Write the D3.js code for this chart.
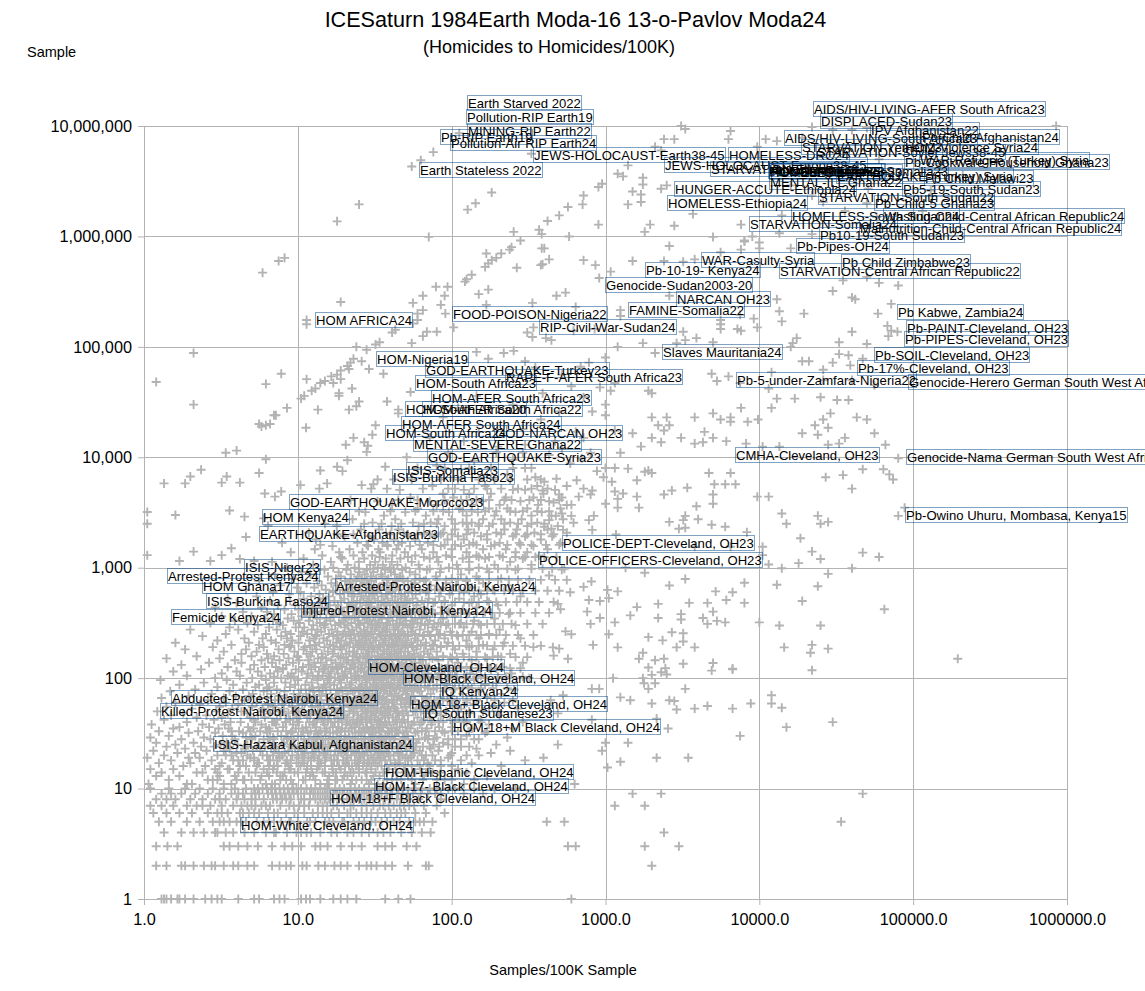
<!DOCTYPE html>
<html>
<head>
<meta charset="utf-8">
<title>ICESaturn</title>
<script src="https://cdn.jsdelivr.net/npm/d3@7"></script>
<style>
html, body { margin: 0; background: #fff; overflow: hidden; }
text { font-family: "Liberation Sans", Arial, sans-serif; fill: #000; }
</style>
</head>
<body>
<svg id="chart" width="1145" height="991"></svg>
<script>
var xTicks = [ 1, 10, 100, 1000, 10000, 100000, 1000000 ];
var yTicks = [ 1, 10, 100, 1000, 10000, 100000, 1000000, 10000000 ];

// scattered samples, top of the chart: [ samples/100K, sample ]
var sparseTop = [
	[76,5.8e6],[63,4.9e6],[55,4.3e6],[182,2.5e6],[143,2e6],[127,1.75e6],[25,1.95e6],[18,1.37e6],[71,9.9e5],[8.2,6.4e5],[7.5,6e5],[5.9,4.7e5],
	[253,1.1e6],[370,1.15e6],[385,1.05e6],[280,9.2e5],[245,8e5],[238,7.6e5],[168,7e5],[210,7e5],[195,6.4e5],[182,6.1e5],[173,5.7e5],[165,5.3e5],[265,5.2e5],[380,5.5e5],[385,7.8e5],
	[135,4.5e5],[125,4.1e5],[122,3.9e5],[79,3.5e5],[94,3.5e5],[173,3.3e5],[150,3e5],[90,2.9e5],[65,2.9e5],[56,2.5e5],[85,2.4e5],[168,2.4e5],[335,2.5e5],[19,2.55e5],
	[65,2.15e5],[60,2e5],[91,2e5],[11.4,1.75e5],[11.4,1.6e5],[60,1.75e5],[56,1.63e5],[103,1.5e5],[80,1.37e5],[69,1.37e5],[65,1.25e5],[43,1.43e5],[41,1.35e5],[340,1.5e5],[310,1.35e5],[335,1.23e5],
	[24,1e5],[28,9.4e4],[34,1.1e5],[32,1.05e5],[55,1.08e5],[145,9e4],[218,8.8e4],[253,9.2e4],[173,7.8e4],[300,7.4e4],
	[2.1,8.8e4],[7.8,5.7e4],[6.2,4.6e4],[1.2,4.8e4],[2.1,3e4],[8.5,2.8e4],[7,2.4e4],[23,7.8e4],[22,7.2e4],[21,6.7e4],[26,7.4e4],[21.5,6.3e4],[29,6.3e4],[36,5.7e4],[19,6.1e4],[18,5.6e4],[16.5,5.4e4],[15,4.9e4],[14,4.7e4],[11.4,5.1e4],[17,4.7e4],[19,5.1e4],[22.5,4.2e4],[13,4.2e4],[12.3,4e4],[11,3.6e4],[10.5,3.4e4],[18.5,3.8e4],[18.5,3.6e4],[54,3.9e4],[38,3.2e4],[25,3.2e4],[24,2.9e4],[21.5,2.7e4],[13.5,2.7e4],[45,2.7e4],[45,2.5e4],[390,3.8e4],
	[3100,1e7],[3300,9.4e6],[6500,9e6],[6300,7.6e6],[2400,7.6e6],[2800,7.6e6],[9700,6.5e6],[11000,7.6e6],[13000,7.3e6],[2100,6.5e6],[2300,6e6],[112,8.6e6],[330,5.6e6],
	[1400,4.4e6],[1200,3.7e6],[1300,3.5e6],[1750,3.4e6],[1750,2.95e6],[950,3e6],[900,2.8e6],[2500,2.9e6],[2300,2.7e6],[1500,2.55e6],[1700,2.4e6],[1700,2.05e6],[1400,1.95e6],[720,2.35e6],[710,1.95e6],[570,1.85e6],[500,1.55e6],[420,1.38e6],[900,1.28e6],[1950,1.28e6],[1800,1.1e6],[2800,1.25e6],[7600,1.28e6],[5000,9.9e5],[8000,9.2e5],[9000,1e6],[3700,1.6e6],[14000,1.55e6],[13500,1.07e6],[2600,8.2e5],[10000,7.8e5],
	[22000,9.8e6],[30000,9.2e6],[40000,9.2e6],[50000,9.6e6],[850000,1e7],[22000,1.05e6],[50000,2e6],[26000,2.05e6],[51000,2.7e6],[22000,2.35e6],[16000,2.9e6],[33000,6e6],[60000,5e6],[150000,4.4e6],[210000,3.6e6],[130000,2.6e6],[115000,1.7e6],[58000,1.5e6],[36000,1.7e6],[19000,7.8e6]
];

// scattered samples, y from 1000 to 1,000,000
var sparseMid = [
	[580,1e6],[10000,8.8e5],[8000,9e5],[16000,7.8e5],[7600,7.6e5],[5600,7.2e5],[2400,6e5],[3200,5.9e5],[1500,6e5],[720,6.1e5],[860,5.5e5],[430,6.2e5],[400,7.8e5],[390,5.6e5],[1080,4.8e5],[910,4.2e5],[3800,6.2e5],
	[30000,3.2e5],[40000,2.8e5],[42000,2.7e5],[80000,3.6e5],[60000,3.8e5],[50000,4.3e5],[35000,4e5],[72000,2.45e5],[59000,2e5],[19500,2e5],[13000,2.7e5],[13500,2.1e5],[14000,1.7e5],[9200,1.8e5],[7500,1.95e5],[5600,1.75e5],[5600,1.6e5],[5600,1.45e5],[7200,1.45e5],[7600,1.4e5],[9700,1.5e5],[3200,1.37e5],[3900,1.2e5],[5000,1.1e5],[3300,1.15e5],[2900,1.08e5],[1750,1.08e5],[1200,1e5],[2100,8.8e4],
	[17500,1.2e5],[16500,1.08e5],[16000,1e5],[33000,1.1e5],[50000,1.06e5],[40000,1.37e5],[68000,1.55e5],[79000,1.37e5],[69000,1.25e5],[72000,1.4e5],[33000,8.6e4],[38000,8.4e4],[19000,7.4e4],[30000,7.2e4],[21000,7.4e4],[39000,6.8e4],[47000,7.8e4],[26000,6.2e4],[12000,5.9e4],[4900,5.7e4],[6300,5.4e4],[5300,4.9e4],[7500,4.7e4],[11500,4.2e4],[26000,5e4],[40000,5e4],[56000,4.5e4],
	[17000,3.4e4],[13000,3.4e4],[25000,3.5e4],[38000,3.3e4],[32000,3.3e4],[12000,2.8e4],[7600,2.8e4],[5000,2.5e4],[3800,2.3e4],[6500,2.3e4],[5600,2.2e4],[6500,2.1e4],[9800,2.2e4],[8400,2.1e4],[26000,2.2e4],[29000,2.5e4],[43000,2.3e4],[50000,2.2e4],[23000,1.95e4],[28000,1.85e4],[19000,1.65e4],[24000,1.6e4],[36000,1.5e4],[56000,1.65e4],[66000,1.3e4],[33000,1.33e4],[28000,1.3e4],[13500,1.25e4],[8200,1.33e4],[10500,1.25e4],[6100,1.4e4],[5000,1.5e4],[4400,1.7e4],[4300,1.37e4],[3800,1.33e4],[3100,1.5e4],[2400,1.75e4],[2600,1.95e4],[2500,2.3e4],[2000,2.3e4],[2200,1.95e4],[1500,1.65e4],[2000,1.5e4],[2300,1.37e4],[1700,1.25e4],
	[1000,2.4e4],[1150,1.75e4],[1000,3e4],[1000,8e4],[780,7.2e4],[690,6.6e4],[1900,4e4],[2000,3.8e4],[1150,4.7e4],[920,4.3e4],[1080,4e4],[480,2.9e5],[550,3.1e5],[640,2.3e5],[445,1.15e5],[410,1.2e5],[2600,2.9e5],[1250,2.15e5],[1250,1.9e5],[850,1.45e5],[620,1.4e5],[350,6.5e4],[520,5.6e4],[600,4.4e4],[720,3.5e4],[820,2.6e4],[500,2.6e4],[380,2.2e4],[290,1.8e4],[640,1.7e4],[720,1.5e4],[470,1.4e4],[300,1.3e4],[150,1.7e4],[200,1.25e4],[120,1.4e4],[88,2.3e4],[145,3.6e4],[110,2.8e4],[250,3e4],[72,1.5e4],
	[6500,7200],[4700,7200],[7000,5700],[6000,5700],[5100,5700],[3400,5300],[2700,5000],[2400,4600],[5000,4600],[5000,3800],[3900,3600],[9700,4400],[11500,4400],[27000,6600],[35000,6900],[40000,5200],[47000,7800],[64000,7800],[70000,7000],[74000,6300],[80000,9800],[88000,3500],[80000,2950],[14000,3100],[15000,2500],[24000,2950],[28000,2600],[25000,2500],[18500,1850],[22000,1400],[25000,1200],[47000,1370],[60000,1250],[18000,1100],[10500,1550],[10500,1300],[11500,1070],
	[1150,8000],[1000,8000],[970,6600],[1100,6000],[1400,7900],[1600,6200],[1900,7600],[2000,7200],[1800,7400],[1150,4900],[1300,4700],[1200,4200],[1600,4400],[1200,3500],[1650,3500],[1000,3800],[820,5000],[720,5200],[670,4400],[650,6200],[800,4600],[480,6400],[400,6000],[390,5000],[500,4600],[460,3900],[560,3700],[520,3100],[475,2950],[430,2700],[600,2950],[620,2550],[780,2700],[840,2950],[445,2250],[400,2350],[530,2200],[820,2200],[1170,2000],[2600,2600],[3200,2700],[3300,2950],[4000,2750],[4900,2450],[6000,2350],[3000,2250],[3300,2300],[8300,2100],[3800,1550],[6500,1550],[1350,1000],[520,960],[430,850],[1800,900],
	[5.6,2e4],[7.2,2.4e4],[6.6,2e4],[6.2,1.95e4],[5.8,1.9e4],[11.3,1.85e4],[3.4,1.1e4],[4,1.15e4],[6.2,9600],[2.35,7700],[2,6700],[1.85,5800],[1.35,5800],[3.2,5900],[3.45,6700],[4.2,5900],[5.6,7200],[6.1,4700],[7.1,4400],[7.8,4900],[10.4,5600],[14,7600],[15.5,5800],[13.8,5200],[21,9400],[23,1.5e4],[27,1.37e4],[28.5,1.27e4],[28,1.12e4],[20.5,1.3e4],[18,8200],[19.5,7500],[32,1.95e4],[30.5,1.6e4],[33,6300],[37,8200],[31,5700],[26,5600],[51,1e4],
	[1.05,3200],[1.05,2500],[1.6,3000],[3.6,3300],[4.5,2900],[6,2800],[6.4,2400],[4.6,1900],[3.7,1500],[3.2,1300],[2.7,1150],[4.2,1200],[5.2,1150],[2.1,1400],[1.7,1150],[1.05,1300],
	[80,8400],[95,1.1e4],[115,7800],[140,9300],[170,6900],[195,1.1e4],[230,7000],[250,9500],[290,1.1e4],[330,8000],[350,6600],[430,1.05e4],[520,1.2e4],[590,8800],[700,9800],[800,1.1e4],[880,7500],[1250,1.1e4]
];

// scattered samples, y below 1000 and x above about 400
var sparseRight = [
	[8000,730],[8000,480],[6700,600],[6100,510],[5200,610],[4600,480],[3500,480],[3300,790],[2600,690],[5000,400],[4300,350],[4600,310],[5300,330],[6000,320],[3100,380],[3100,340],[2200,470],[2200,350],[1600,440],[1450,370],[1150,320],[920,350],[800,310],[2700,260],[1900,235],[2350,220],[3200,255],[3200,215],[2900,190],[3800,190],[1750,170],[2100,145],[1650,150],[2400,150],[1900,125],[3200,135],[5000,137],[6700,122],[1050,250],[1200,190],[830,200],[600,250],[550,265],[570,150],[455,190],[500,185],[460,160],[810,750],[590,600],[780,510],[1030,630],[1200,610],[1050,530],[920,500],[720,670],[490,470],[510,420],[760,400],
	[14000,990],[40000,990],[28000,880],[24000,680],[13000,700],[19000,500],[65000,420],[25000,300],[13500,300],[14500,190],[22000,200],[21500,170],[28000,185],[10000,320],[195000,150],
	[22000,118],[6700,120],[4900,117],[3300,80],[12000,70],[12000,59],[14000,54],[8800,59],[6700,53],[4600,56],[3800,53],[2900,52],[2800,62],[2600,63],[2000,59],[1450,63],[1250,67],[910,80],[815,80],[1120,100],[1750,100],[1780,90],[2000,107],[1900,80],[2100,90],[2500,108],[2300,113],[2450,123],[2150,43],[2550,35],[7500,30],[15000,36],[30000,40],[1400,26],[1000,26],[950,22],[1250,17.5],[1030,15.5],[2150,19],[3450,19],[490,25],[395,19],[815,42],[530,70],[440,63],[490,48],[630,11],[1500,9],[2300,9],[1150,7],[1800,7],[47000,9],[34000,5],[2400,4],[415,5],[540,5],[570,3],[640,3],[1800,3],[3000,3],[2000,2],[600,1]
];

// dense cloud, one row per sample count: [ sample, [ samples/100K, ... ] ]
var denseRows = [
	[1,[1.3,1.35,1.4,1.5,1.65,1.7,1.85,2.1,2.5,2.75,3,3.2,4.1,5.2,5.6,7,7.6,8.2,10.5,11.3,12,14,17,19,21,24,37,45,54]],
	[2,[1.2,1.4,1.75,1.85,2.1,2.45,2.75,2.9,3.3,3.8,4.1,4.7,5.2,6.8,7.6,8.4,9,10.7,11.4,13.6,15,17.3,19,21,25,28,30,32.5,37,41,52,68,71]],
	[3,[1.2,1.42,1.65,3.3,3.6,4.1,4.7,5.5,6.8,8.2,9.2,10.5,13,14,15.6,19,22.5,26,33,37,41,51,59]],
	[4,[1.35,1.75,2.1,2.45,3.4,3.8,4.5,5.2,6.2,7.2,8.5,9.8,11.4,14,16.5,21,26,33,40,55,73,2.9,3,7,10.5,12.2,18,23,29,36,47,64]],
	[5,[1.25,1.5,1.9,2.3,2.8,3.1,3.3,3.6,4,4.6,5.4,6,7,7.8,8.8,10,11.5,13,15,17,19.5,23,27,32,38,46,53,62,75,4.3,6.5,9,12,16,20,25,30,35,42,58,66]],
	[6,[1.15,1.4,1.7,2.05,2.6,3,3.5,4.2,4.4,4.8,5.6,6.4,7.4,8.4,9.5,11,12.5,14.5,16.5,18.5,21,24,28,33,37,44,50,58,3.2,5.2,7,10,13.5,15.5,22,26,30,40,47,68,90]],
	[7,[1.1,1.3,1.55,1.9,2.2,2.7,3.2,3.8,4.3,5,5.3,5.8,6.6,7.7,8.8,10.2,11.8,13.5,15.5,18,20,23,26,31,36,42,49,57,66,2.4,4.7,6.2,9.4,11,14.5,17,22,28,34,39,46,53,80]],
	[8,[1.2,1.6,2,2.4,2.9,3.4,4,4.5,5.3,6,6.9,7.9,9,10.5,12,14,16,18.5,21,25,29,34,40,47,1.4,3.1,5,7.3,8.4,11,13,15,17,19.5,23,27,31,37,44,52,61,85]],
	[9,[1.3,1.75,2.15,2.6,3.1,3.7,4.4,5,5.6,6.4,7.2,8.2,9.4,11,12.6,14.5,17,19.5,22,26,30,35,41,48,56,70,85,120,160,1.5,4.1,5.3,6.8,7.7,8.8,10,12,13.5,15.5,18,21,24,28,33,38,45,52,63,78]],
	[10,[1.1,1.45,1.85,2.3,2.8,3.3,3.9,4.6,5.2,5.9,6.7,7.6,8.6,9.8,11.4,13,15,17.5,20,23.5,27,32,37,44,52,64,80,105,140,190,260,5.5,6.3,7.1,8.1,9.2,10.5,12.2,14,16,18.7,22,25,29,34,40,48,58,72,95]],
	[11,[1.07,1.9,2.05,3.3,3.7,6.2,6.8,7.1,9.3,14,15.5,15.9,22,29,33,36,58,120]],
	[12,[1.45,2.6,2.8,4.4,4.5,5,8.4,10.8,11.2,13,18,19.5,24,26,41,47,90,3,4,5.7,7.7,9,15.6,17.5,22.5,28,30,38,44,55,65,80,100,140]],
	[13,[1.2,1.7,3.1,3.9,5.8,6.5,7.7,8,12,12.6,16,20,21,31,34,52,66,170]],
	[14,[1.3,2.2,2.4,4.8,5.3,7.3,9.5,10,14.5,17,17.7,23,27.5,28,38,44,75,3,4.1,6.3,8.2,11.3,12.4,15,20.2,22,25,32,36,50,58,68,85,125]],
	[15,[1.1,1.55,2.9,3.5,3.6,6,6.9,8.8,9,11.5,13.3,16.8,19,25,30,39,49,63,110]],
	[16,[1.8,2.5,4.2,4.6,7,7.4,10.4,12.2,15,18.5,21.5,22.5,26.5,33,35,55,85,210,3.1,5.4,6.5,8.7,11.5,13.7,16.7,20.3,24,28,30,38,43,50,62,72,100]],
	[17,[1.25,2,3.2,5.5,5.6,8.3,9.8,11,14,14.2,20.5,24.5,29,32,43,46,70,135]],
	[18,[1.5,2.75,3.8,4.1,6.4,6.6,8.5,13.5,16.5,17.2,19.7,23.5,28.5,37,40,60,78,300,4.4,5.2,7.3,9,10.7,12.2,15,18,21,25,27,31,34,45,52,66,85,115]],
	[19,[1.05,1.95,2.3,4.9,5.2,7.6,10.1,11.7,12.8,15.3,21,25.5,31,34.5,50,54,95]],
	[20,[1.35,3,3.4,5.9,6.3,9.2,9.9,13.8,16.3,18.2,22.2,27,30,36,42,48,68,125,3.7,4.7,6.9,7.9,10.8,12.7,15,17.3,20.8,25,28.4,33,39,46,55,64,75,98,150]],
	[21,[1.65,2.15,4,4.3,7.5,8.2,11.1,12.4,14.8,19.2,24,26.3,33.5,38,45,57,100,180]],
	[22,[1.15,2.55,3.3,5.1,5.7,8.7,10.6,15.6,17.5,20.2,23,28.3,31.5,35,51,62,82,240]],
	[23,[1.85,3.6,4.5,6.7,7.2,9.6,13.1,13.6,18.8,21.2,25,29.5,32.5,39,44,56,73,145]],
	[24,[1.4,2.35,2.85,5.4,6.1,10.3,11.4,14.4,16.1,22,24.2,27.8,34,41,47,65,115,3.6,4.6,7,8.9,10,12.7,13.7,18.5,20,25,29,32,37.6,45,50,58,72,83,105,130]],
	[25,[1.6,3.15,4.05,4.7,7.9,9.1,12.3,15.1,17.9,19.9,26,30.5,36.5,37.5,53,76,95,195]],
	[26,[1.2,2.1,3.45,5.6,6.6,8.1,10.9,13,16.6,20.8,23.2,28.8,33,40,46,59,88]],
	[28,[1.75,2.7,3.9,6,7,9.4,11.8,14.6,15.8,18.6,24.7,26.8,31.2,35.8,42.5,61,105,150,5,6.4,8.5,11,13.3,16.9,20,23.5,27.3,33.4,37,42,50,56,70,77,95,115,140]],
	[29,[1.1,2.45,4.6,5,6.9,8.6,12.7,13.4,17,21.7,22.7,29.6,34.2,39.5,49,67,80,230]],
	[30,[1.45,3.25,3.75,5.3,7.8,10,10.5,15.2,19.1,20.3,25.8,30.8,37.2,43,52,71,125]],
	[32,[1.95,2.9,4.4,6.3,9,11.6,13.7,16.2,18,23.7,27.2,32,38.5,45,48,58,90,165]],
	[33,[1.25,2.25,4.15,5.7,7.4,8.4,12.1,14.1,17.8,21.4,24.9,29,35,41,44,64,78,110,3.7,4.9,6.6,9.2,10.8,13,15,19,20.3,26,30,34,39,43,51,60,68,87,100,130,170]],
	[35,[1.55,3.05,3.55,5.15,6.5,9.7,10.7,15.4,19.4,22.4,26.6,31,33.7,40.5,54,69,135,250]],
	[36,[1.7,2.65,4.75,6.2,8,11.3,13.2,16.9,18.3,23.4,28.2,30.2,36,46,50,83,100]],
	[38,[1.12,2.4,3.35,5.8,7.2,9.3,12.5,14.9,20.6,21.9,25.3,32.7,37.7,42,55,62,74,175]],
	[40,[1.9,3.65,4.25,6.8,8.3,10.2,11.9,16.4,17.4,24.3,27.7,34.8,39.2,47.5,57,88,120,290,5.3,7,8.4,10,12.8,14.6,18.4,21,24,30,34,37,44,52,64,74,82,105,125,155]],
	[42,[1.35,2.85,5.2,7.3,8.9,13.3,15.7,19.3,22.9,26.2,29.3,33.3,43.5,49,66,98,150]],
	[44,[2.2,3.2,4.9,6.1,9.8,11.5,14.3,18.1,21,25.6,28,31.7,36.8,41.5,60,72,112]],
	[46,[1.5,2.55,5.5,7.7,10.4,12,16,17.3,20.1,24.6,30.1,35.5,38.7,45.5,52,85,205]],
	[48,[1.8,3.5,4.7,6.6,8.7,13.9,15,19,23.1,27.4,32.3,37,44.5,48,68,79,130]],
	[50,[1.22,2.95,4.3,7.5,9.5,11,12.9,17.6,21.6,26.4,29.8,34.4,40,51,56,92,160,6,8,9.7,12.3,14.8,18.2,19.7,23,28,31,35,39,44,48,58,63,72,85,110,130,175,200]],
	[53,[2.05,3.75,5.9,8.1,10.1,14.7,16.6,18.9,24.1,28.6,33,38.2,43,59,63,75,115,270]],
	[55,[1.4,3.1,5.05,6.9,9.2,12.4,13.5,20,22.2,25.9,31.1,36.4,42.2,50,70,104,185]],
	[58,[2.3,4.1,6.4,7.9,10.7,15.9,17.1,21.3,23.9,27.1,30,35.2,46.7,53,61,82,140]],
	[60,[1.6,3.4,5.4,8.8,11.1,12.2,14,18.7,22.6,26,32.9,39,41,49.5,65,77,125,220]],
	[63,[2.6,4.5,7.1,9.9,13.1,15.5,19.7,24.4,28.4,33.6,37.6,44,54.5,58,94,108,7.5,11.5,14,17.7,20,22,26,30,32,37,42,47,51,57,68,77,88,100,125,145,190,250]],
	[66,[1.3,3.3,5.7,6.3,8.5,11.7,16.7,20.7,23.3,27.9,31.4,35.7,47,52,69,84,170]],
	[69,[1.95,3.95,4.8,7.6,10.3,12.8,14.2,18.4,25.2,29.1,34.1,40.7,45.2,56.5,64,99,135]],
	[72,[2.75,5.1,6.7,9.4,11.3,15.3,17.7,21.1,26.7,30.6,32.2,38.1,42.7,50.5,73,118,210]],
	[76,[1.48,3.6,6,8.2,12.6,13.8,19.5,22.8,24.8,28.9,36.2,39.7,48.5,55,62,88,150]],
	[79,[2.15,4.4,7.3,10.5,11.9,16.3,18,23.6,27.3,31.9,34.7,43.7,51.5,60,76,102,255]],
	[81,[6.3,12.5,14.5,19,22,25,28,33,37,40,46,50,55,60,70,80,90,105,118,135,155,185,230]],
	[83,[3,5.3,6.5,8.9,13.6,15.1,20.4,25.4,29.7,33.2,37.3,41.3,46.3,57.5,67,128]],
	[87,[1.7,3.8,5.6,9.6,11.2,14.8,17.2,21.8,26.1,30.9,35.9,40.2,45,53.5,80,93,165]],
	[91,[2.45,4.65,7,8.3,12.3,16.1,19.1,22.3,28.1,32.4,38.8,44.8,50,63,72,112,195]],
	[96,[1.28,3.45,6.2,10,13.4,15.6,18.6,24,27.6,31.3,34.9,42.4,48.2,58.5,86,140]],
	[100,[2.9,5.05,7.8,9,11.4,17.4,20.9,25.1,29.2,33.9,37.8,46,52.5,66,74,120,320]],
	[103,[7,9.4,13.5,16,20,23.5,27.5,31.7,36.2,41,47,51,56,61,70,81,95,108,125,145,165,200,225,290]],
	[105,[1.9,4.2,5.8,8.6,12.5,14.5,19.6,23.8,26.9,30.4,36.6,41.8,55.5,61,98,155]],
	[110,[3.2,6.6,9.1,11.6,15.8,18.2,22.1,28.3,32.8,35.3,39.9,47.6,53.7,70,83,132,245]],
	[115,[1.55,4,5.5,7.4,10.6,13.7,16.4,20.3,24.5,27,31.6,37.1,44.2,51,64,105]],
	[120,[2.35,4.9,8,9.7,12.2,14.6,17.9,21.9,25.7,29.9,34.3,38.4,43.2,59,78,90,180]],
	[123,[8,15,18,22,26,31,36,41,45.5,52,58,64,70,78,86,95,105,115,135,150,175,195,240,280]],
	[126,[3.5,6.1,7.2,10.8,13,16.8,19.4,23.5,28.8,33.4,36,42,49.2,56,71,125,215]],
	[132,[1.75,5.2,8.4,11.8,15.4,18.9,22.5,26.3,30.7,35.1,39.1,45.7,54,68,95,150]],
	[138,[2.65,4.3,6.8,9.3,12.8,14.1,17.6,20.7,24.7,27.5,32.5,37.4,47.3,58,62,110,290]],
	[145,[3.9,5.8,7.6,10.2,11.7,16.5,21.2,23,29.4,31.8,36.9,41.1,50.8,65,82,135]],
	[151,[1.4,3.1,6.4,8.7,13.5,15.2,19.8,25.3,28.2,34.6,38.3,44.6,55,75,100,170]],
	[155,[10,14.5,19,24,28,33,38,45,50,57,63,72,80,88,98,108,120,130,145,165,185,210,260,310]],
	[158,[2.2,5,7,9.9,12.1,18.3,22.7,26.6,30.3,33.1,40.4,48.7,53,61,88,200]],
	[166,[4.3,6.3,8.1,11.4,14.3,16.9,20.6,24.2,27.8,35.6,39.3,43.6,57,70,118,240]],
	[174,[3.3,5.4,9.5,12.4,15.7,21.6,23.3,29,31.5,36.4,42.3,46.8,52,66,80,145]],
	[182,[1.85,4.6,7.5,10.9,13.2,17.3,19.3,25.9,28.6,32.9,37.9,45.3,59,73,105,185]],
	[191,[2.8,6,8.8,11.1,14.9,18.8,22.9,26.8,30.8,34.2,40.8,49.8,56,85,130,340]],
	[196,[9,12,17,20,25,30,36,42,48,55,60,68,75,85,93,102,112,125,135,150,170,190,215,250,300,380]],
	[200,[3.7,5.6,8.2,12.9,16.2,20.8,24.4,27.3,33.7,38.9,44.3,51,63,76,160]],
	[209,[1.6,4.8,7.2,10.1,13.8,17.8,21.7,25.5,29.5,35.8,41.7,47.8,54.7,68,95,220]],
	[219,[3,6.7,9.2,11.9,15.5,19.2,23.7,27.9,32.2,37.2,43.4,50.3,60,78,125]],
	[229,[4.5,5.9,8.5,12.7,14.7,18.4,22.2,26.2,31.1,36.7,40.9,46.1,57.7,90,150,280]],
	[240,[2.4,7.8,10.4,13.1,17,20.5,24.9,28.7,34.5,39.6,45,52.3,65,73,110]],
	[246,[13,18,22,27,35,40,45,52,58,66,72,82,90,100,108,118,130,145,155,175,195,225,270,340]],
	[251,[3.4,6.2,9,11.5,15.9,19.7,23.2,27.6,30.1,33.8,42.8,49,58,84,175]],
	[263,[5.2,8.3,10.7,14.2,18.1,21.4,25.6,29.7,35.4,38,47.2,54.5,70,98,135]],
	[275,[2,4.1,7.3,12.3,13.4,16.6,22.6,26.9,31.7,37,41.9,44.9,62,80,205]],
	[288,[3.6,6.5,9.7,11,15,20.2,24.1,28.4,32.6,36.1,43,51.7,56,75,120]],
	[302,[5.5,8,12.6,14.8,17.5,21,25.2,30.5,34,39.4,48.1,53.8,67,92,155,260]],
	[310,[15,19,25,30,38,44,50,56,63,70,77,85,95,105,112,125,138,150,170,190,215,245,310,390]],
	[316,[2.7,4.7,7.6,10.3,13.9,18.5,22.3,27.1,33.5,37.7,45.8,60,82,115]],
	[331,[3.9,6.9,9.4,11.8,16.3,19.9,24.6,29.3,31.9,41.4,50.6,55.3,72,140]],
	[347,[6.1,8.6,13.3,15.3,20.4,23.4,28.1,35.2,38.6,46.5,58,64,88,190]],
	[363,[3.2,5,10.6,12,17.1,21.5,26.4,30.9,34.4,44.1,49.5,69,105]],
	[380,[7,9.1,14,16.7,18.6,25,28.9,32.1,40.1,47.4,54.2,78,125,235]],
	[390,[12,20,24,33,40,46,55,62,68,75,85,93,103,115,130,145,160,180,205,240,280,350,430]],
	[398,[4.4,6.3,11.2,13,19.5,22.8,27.4,36.3,42.6,52.7,61,96,165]],
	[417,[8.2,10.1,15.6,17.7,24,26,31.4,37.8,45.6,56.6,74,118]],
	[437,[2.9,5.8,12.5,14.4,20.9,23.8,29.6,33,43.7,50,66,86,145]],
	[457,[7.4,9.6,16.1,18.2,22,27.8,34.7,39.7,48.4,59,100,200]],
	[479,[4,11.5,13.6,15.1,21.3,25.4,30.2,36.7,44.7,53.2,76,130]],
	[490,[14,23,29,36,45,50,60,70,78,90,105,120,135,150,175,195,225,265,310,370,460]],
	[501,[6.6,8.9,17.3,19.1,24.3,28.3,33.2,41.2,51.3,64,90,170]],
	[525,[3.5,10.9,14.6,20,26.7,31.6,38.3,46.9,55.7,71,112]],
	[550,[5.4,12.2,16,22.4,25.8,29.1,35,42.9,49.7,83,140,280]],
	[575,[8.8,13.8,18.8,23.1,30.7,37.5,47,58.3,97,155]],
	[603,[6.9,10.4,16.9,21.2,27.7,32.7,40.6,52.2,68,120]],
	[618,[17,25,30,41,55,62,70,85,100,112,130,150,170,190,220,250,290,350,420,500]],
	[631,[4.6,15.2,19.6,24.8,34.1,39,45.4,62,78,185]],
	[661,[9.9,12.8,22.6,28.8,33.6,43.2,54.8,88,135]],
	[692,[7.7,14.3,18,25.5,31.2,37.9,49.2,73,107,235]],
	[724,[11.4,16.5,21.8,27,36,41.6,57.2,92,160]],
	[759,[5.6,13.4,20.3,23.9,30,44.4,51.9,66,125]],
	[776,[22,28,38,44,58,68,80,92,110,125,150,175,200,235,270,320,380,470,560]],
	[794,[9.4,17.7,26.1,32.3,38.8,48,62,100,210]],
	[832,[15.7,19,24.5,29.9,35.4,46.2,79,145]],
	[871,[7.1,12.1,22.1,27.2,34.8,42.7,58,115]],
	[912,[10.6,18.4,25.1,31,40.3,53.4,84,175]],
	[955,[14.9,20.7,28.1,36.9,47.7,69,130,260]],
	[980,[25,31,42,62,72,85,110,130,170,200,230,270,330,390,450,540]],
	[1000,[8.5,17,23.4,33.1,39.6,50.2,96,150]],
	[1060,[12.6,21.1,29.5,35.7,44.4,61,108,190,330]],
	[1130,[6.8,16.4,24.9,31.8,40.8,55,82,130,240]],
	[1210,[10.9,19.4,27,37.3,46.4,72,118,165,290]],
	[1250,[19,34,52,66,80,100,130,150,175,215,260,300,350,400,480]],
	[1290,[14.4,23,30.4,41.1,58,92,145,205,370]],
	[1380,[9,18.6,26.3,34.3,49.6,76,125,260,310]],
	[1470,[12.9,21.7,33.4,43.8,64,100,160,225,420]],
	[1570,[16.8,28.6,38.4,53.6,85,115,180,340]],
	[1610,[14,28,38,45,62,76,90,105,130,145,190,230,280,330,410,500]],
	[1680,[7.9,24.4,35.5,47.5,70,138,205,275,510]],
	[1800,[13.1,31.3,42.1,58,94,120,170,380]],
	[1930,[20.1,29.2,52,78,110,155,250,300,450]],
	[2010,[18,23,40,52,60,72,85,100,125,170,210,260,310,380,460]],
	[2070,[11.8,37.4,48.6,66,88,140,195,345,560]],
	[2220,[25.7,33.7,45,105,128,220,265,420]],
	[2380,[17.9,40.7,61,90,175,150,310,490]],
	[2500,[15,27,35,47,66,80,105,125,150,185,220,270,330,400]],
	[2560,[30.6,56,73,118,135,240,360]],
	[2750,[22.7,43,82,100,160,210,285,530]],
	[2960,[36.3,68,125,190,330,445]],
	[3190,[27.5,50,96,148,260,385]],
	[3250,[25,40,58,76,88,118,135,165,195,240,290,360,430]],
	[3440,[60,112,175,230,310,510]],
	[3710,[41,80,135,205,365,600]],
	[4000,[33,72,158,280,430]],
	[4100,[22,45,60,90,115,125,145,175,220,245,320,380,500]],
	[4320,[54,103,225,340,520]],
	[4680,[88,130,180,395]],
	[5070,[46,120,250,300,470]],
	[5200,[30,38,65,95,105,140,170,210,270,330,420]],
	[5500,[75,165,360,560]],
	[6300,[42,55,85,110,150,190,240,310,380]],
	[8000,[60,90,130,180,250,300]]
];

var labelNames = [
	'Earth Starved 2022','Pollution-RIP Earth19','MINING-RIP Earth22','Pb-RIP Earth19','Pollution-Air RIP Earth24','JEWS-HOLOCAUST-Earth38-45','Earth Stateless 2022','HOMELESS-DRC24','JEWS-HOLOCAUST-Europe38-45','STARVATION-Ethiopia23',
	'AIDS/HIV-LIVING-AFER South Africa23','DISPLACED-Sudan23','IPV Afghanistan22','AIDS/HIV-LIVING-South Africa23','Pb-Child Afghanistan24','STARVATION-Yemen23','STARVATION-Soviet Jews38-45','HOM-Violence Syria24','WAR-Refugee (Turkey) Syria','Pb-Cookware-Household Ghana23',
	'HUNGER-Sudan23','HOMELESS-Yemen23','Pb-Child-Nigeria23','FOOD-INSECURE-Somalia23','Pb-5-Bangladesh23','EARTHQUAKE-(Turkey) Syria','Pb Child Malawi23','MENTAL-ILL Ghana22','HUNGER-ACCUTE-Ethiopia24','HOMELESS-Ethiopia24',
	'Pb5-19-South Sudan23','STARVATION-South Sudan22','Pb-Child-5 Ghana23','HOMELESS-South Sudan24','Wasting-Child-Central African Republic24','STARVATION-Somalia24','Malnutrition-Child-Central African Republic24','Pb10-19-South Sudan23','Pb-Pipes-OH24','WAR-Casulty-Syria',
	'Pb Child Zimbabwe23','Pb-10-19- Kenya24','STARVATION-Central African Republic22','Genocide-Sudan2003-20','NARCAN OH23','FAMINE-Somalia22','FOOD-POISON-Nigeria22','Pb Kabwe, Zambia24','HOM AFRICA24','RIP-Civil-War-Sudan24',
	'Pb-PAINT-Cleveland, OH23','Pb-PIPES-Cleveland, OH23','Slaves Mauritania24','Pb-SOIL-Cleveland, OH23','HOM-Nigeria19','Pb-17%-Cleveland, OH23','GOD-EARTHQUAKE-Turkey23','RAPE-F-AFER South Africa23','Pb-5-under-Zamfara-Nigeria22','Genocide-Herero German South West Africa',
	'HOM-South Africa23','HOM-AFER South Africa23','HOM-South Africa20','HOM-AFER South Africa22','HOM-AFER South Africa24','HOM-South Africa24','GOD-NARCAN OH23','MENTAL-SEVERE Ghana22','GOD-EARTHQUAKE-Syria23','CMHA-Cleveland, OH23',
	'Genocide-Nama German South West Africa','ISIS-Somalia23','ISIS-Burkina Faso23','GOD-EARTHQUAKE-Morocco23','Pb-Owino Uhuru, Mombasa, Kenya15','HOM Kenya24','EARTHQUAKE-Afghanistan23','POLICE-DEPT-Cleveland, OH23','POLICE-OFFICERS-Cleveland, OH23','ISIS-Niger23',
	'Arrested-Protest Kenya24','HOM Ghana17','Arrested-Protest Nairobi, Kenya24','ISIS-Burkina Faso24','Injured-Protest Nairobi, Kenya24','Femicide Kenya24','HOM-Cleveland, OH24','HOM-Black Cleveland, OH24','IQ Kenyan24','Abducted-Protest Nairobi, Kenya24',
	'HOM-18+ Black Cleveland, OH24','Killed-Protest Nairobi, Kenya24','IQ South Sudanese23','HOM-18+M Black Cleveland, OH24','ISIS-Hazara Kabul, Afghanistan24','HOM-Hispanic Cleveland, OH24','HOM-17- Black Cleveland, OH24','HOM-18+F Black Cleveland, OH24','HOM-White Cleveland, OH24'
];
var labelX = [
	113,112,113,75.6,87.9,304,55.2,5636,2162,4305,
	20100,22300,47200,13000,101000,16800,21000,78500,98300,78500,
	10400,10400,10400,10700,10200,28400,106000,10400,2512,2260,
	76200,21700,50100,14500,57300,7710,40000,22000,15600,3760,
	30500,1626,12100,894,2588,1261,90.5,70700,11.6,333,
	80900,78500,2099,50100,29,38800,60.4,200,6350,83400,
	52,66.1,44.8,57.8,42.2,33.2,170,50.5,62.2,6250,
	80900,45.5,36.9,7.89,79800,5.27,5.04,470,328,4.03,
	1.27,2.15,15.7,2.28,9.44,1.35,25.8,43.5,75.6,1.35,
	48.3,1.14,58.6,90.5,2.53,32.7,28.2,14.6,3.79
];
var labelY = [
	1.61e7,1.21e7,9.0e6,7.94e6,7.0e6,5.46e6,3.99e6,5.46e6,4.43e6,4.08e6,
	1.43e7,1.11e7,9.2e6,7.78e6,7.94e6,6.46e6,5.81e6,6.46e6,4.92e6,4.72e6,
	3.91e6,3.85e6,3.95e6,3.88e6,3.93e6,3.52e6,3.38e6,3.11e6,2.69e6,2.01e6,
	2.69e6,2.28e6,2.01e6,1.53e6,1.53e6,1.29e6,1.19e6,1.03e6,8.19e5,6.12e5,
	5.87e5,4.97e5,4.86e5,3.63e5,2.71e5,2.16e5,1.98e5,2.07e5,1.75e5,1.51e5,
	1.48e5,1.18e5,89800,84300,77600,64400,61700,53300,50100,48100,
	47100,34400,27400,27400,20000,16600,16600,13200,10100,10500,
	10100,7680,6620,3940,3000,2880,2020,1675,1175,1015,
	841,683,683,500,414,358,126,100,76.5,66.1,
	58.3,50.4,48.3,36.1,25.3,14.1,10.5,8.2,4.68
];

var chartTitle    = 'ICESaturn 1984Earth Moda-16 13-o-Pavlov Moda24';
var chartSubtitle = '(Homicides to Homicides/100K)';
var xAxisTitle    = 'Samples/100K Sample';
var yAxisTitle    = 'Sample';

var CH = {
	  left   : 144
	, right  : 1067
	, top    : 126
	, bottom : 899
	, grid   : '#b3b3b3'
	, mark   : '#b3b3b3'
	, box    : '#004586'
}

var svg    = d3.select( '#chart' );
var xScale = d3.scaleLog().domain( [ 1, 1000000 ] ).range( [ CH.left, CH.right ] );
var yScale = d3.scaleLog().domain( [ 1, 10000000 ] ).range( [ CH.bottom, CH.top ] );

// gridlines and ticks
var xAxis = d3.axisBottom( xScale ).tickValues( xTicks ).tickFormat( d3.format( '.1f' ) ).tickSizeOuter( 0 ).tickSizeInner( 6 ).tickPadding( 8 );
var yAxis = d3.axisLeft( yScale ).tickValues( yTicks ).tickFormat( d3.format( ',' ) ).tickSizeOuter( 0 ).tickSizeInner( 6 ).tickPadding( 6 );
var gridLayer = svg.append( 'g' );
gridLayer.selectAll( 'line.gx' ).data( xTicks ).join( 'line' )
	.attr( 'x1', d => Math.round( xScale( d ) ) + 0.5 ).attr( 'x2', d => Math.round( xScale( d ) ) + 0.5 )
	.attr( 'y1', CH.top ).attr( 'y2', CH.bottom )
	.attr( 'stroke', CH.grid );
gridLayer.selectAll( 'line.gy' ).data( yTicks ).join( 'line' )
	.attr( 'y1', d => Math.round( yScale( d ) ) + 0.5 ).attr( 'y2', d => Math.round( yScale( d ) ) + 0.5 )
	.attr( 'x1', CH.left ).attr( 'x2', CH.right )
	.attr( 'stroke', CH.grid );
var gx = svg.append( 'g' ).attr( 'transform', 'translate(0,' + CH.bottom + ')' ).call( xAxis );
var gy = svg.append( 'g' ).attr( 'transform', 'translate(' + CH.left + ',0)' ).call( yAxis );
[ gx, gy ].forEach( g => {
	g.selectAll( 'path, line' ).attr( 'stroke', CH.grid );
	g.selectAll( 'text' ).attr( 'font-size', '16.3px' ).attr( 'font-family', '"Liberation Sans"' );
} );

// plus marks
var samples = sparseTop.concat( sparseMid, sparseRight );
denseRows.forEach( row => row[ 1 ].forEach( x => samples.push( [ x, row[ 0 ] ] ) ) );
svg.append( 'g' ).selectAll( 'path' ).data( samples ).join( 'path' )
	.attr( 'transform', d => 'translate(' + xScale( d[ 0 ] ) + ',' + yScale( d[ 1 ] ) + ')' )
	.attr( 'd', 'M-4.5,0H4.5M0,-4.5V4.5' )
	.attr( 'fill', 'none' )
	.attr( 'stroke', CH.mark )
	.attr( 'stroke-width', 1.9 );

// data labels sit to the right of their point
var labelG = svg.append( 'g' ).selectAll( 'g' ).data( labelNames ).join( 'g' )
	.attr( 'transform', ( d, i ) => 'translate(' + Math.round( xScale( labelX[ i ] ) + 8 ) + ',' + Math.round( yScale( labelY[ i ] ) ) + ')' );
labelG.append( 'text' )
	.text( d => d )
	.attr( 'font-size', '13.1px' )
	.attr( 'y', 4.5 );
labelG.insert( 'rect', 'text' )
	.attr( 'x', -0.5 )
	.attr( 'y', -7.5 )
	.attr( 'height', 15 )
	.attr( 'width', function() { return Math.round( this.parentNode.querySelector( 'text' ).getComputedTextLength() ) + 1; } )
	.attr( 'fill', 'none' )
	.attr( 'stroke', CH.box )
	.attr( 'stroke-dasharray', '1 1' );

// titles
svg.append( 'text' ).text( chartTitle ).attr( 'x', 575.5 ).attr( 'y', 27 ).attr( 'text-anchor', 'middle' ).attr( 'font-size', '21.6px' );
svg.append( 'text' ).text( chartSubtitle ).attr( 'x', 549 ).attr( 'y', 53 ).attr( 'text-anchor', 'middle' ).attr( 'font-size', '18px' );
svg.append( 'text' ).text( xAxisTitle ).attr( 'x', 563 ).attr( 'y', 975 ).attr( 'text-anchor', 'middle' ).attr( 'font-size', '14.5px' );
svg.append( 'text' ).text( yAxisTitle ).attr( 'x', 27 ).attr( 'y', 57 ).attr( 'font-size', '14.5px' );
</script>
</body>
</html>
